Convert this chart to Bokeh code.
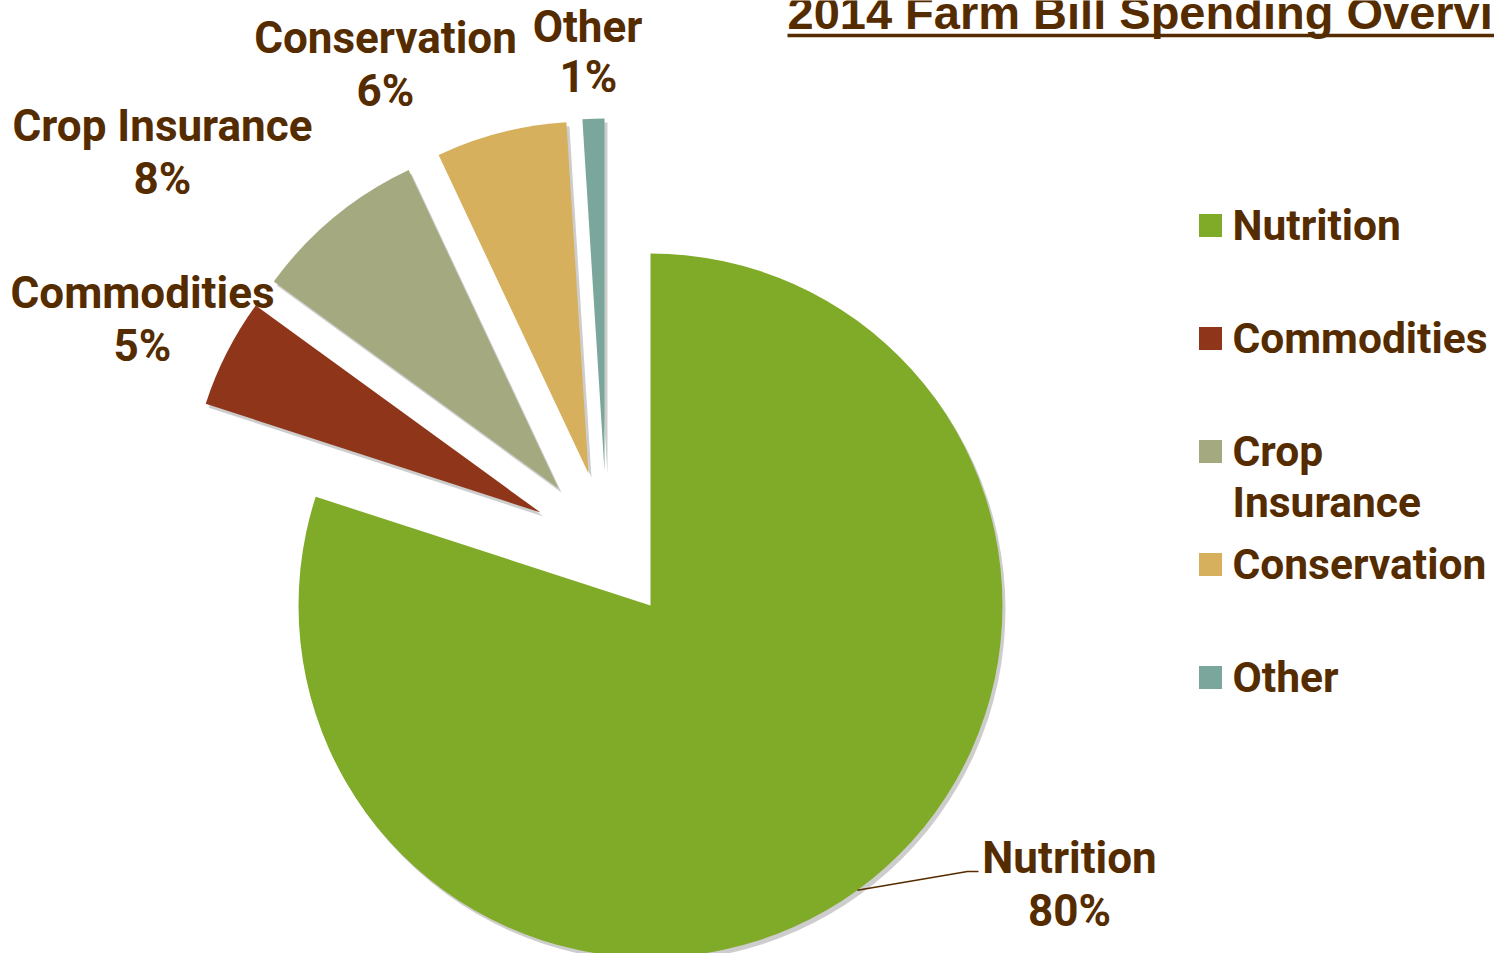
import numpy as np
from bokeh.plotting import figure
from bokeh.models import Range1d, ColumnDataSource
from bokeh.embed import file_html
from bokeh.resources import INLINE
from bokeh.core.properties import value

# ---------------- data ----------------
categories = ["Nutrition", "Commodities", "Crop Insurance", "Conservation", "Other"]
shares = [80, 5, 8, 6, 1]
pct_labels = ["80%", "5%", "8%", "6%", "1%"]
legend_lines = [["Nutrition"], ["Commodities"], ["Crop", "Insurance"], ["Conservation"], ["Other"]]
title_text = "2014 Farm Bill Spending Overview"

# ---------------- style / layout ----------------
colors = ["#80AB29", "#8F361A", "#A4A97F", "#D7B05E", "#7BA69C"]
TEXT = "#552C00"
FONT = "Roboto"
FSIZE = "44px"
LEG_FSIZE = "42.5px"
W, H = 1494, 953
IMG_H = 961


def Y(img_y):
    return IMG_H - img_y


cx, cy = 650.0, Y(605)
R = 352.0
# explosion offsets (image px: dx, dy-down)
explode = [(0, 0), (-110, -93), (-92, -117), (-62, -132), (-46, -135)]
# label anchor centres (image px): name line and percent line
name_pos = [(1069, 857), (142, 292), (162, 125), (385, 37), (587, 26)]
pct_pos = [(1069, 910), (142, 345), (162, 178), (385, 90), (588, 76)]

p = figure(width=W, height=H, output_backend="svg", toolbar_location=None,
           x_range=Range1d(0, W), y_range=Range1d(IMG_H - H, IMG_H),
           min_border=0)
p.axis.visible = False
p.grid.visible = False
p.outline_line_color = None
p.background_fill_color = "white"
p.border_fill_color = "white"

# wedge angles: start at 12 o'clock, clockwise
vals = np.array(shares, dtype=float)
frac = vals / vals.sum()
cum = np.concatenate([[0], np.cumsum(frac)])
start = np.pi / 2 - cum[:-1] * 2 * np.pi
end = np.pi / 2 - cum[1:] * 2 * np.pi

xs = [cx + dx for dx, dy in explode]
ys = [cy - dy for dx, dy in explode]

src = ColumnDataSource(dict(x=xs, y=ys, start=start, end=end, color=colors, cat=categories,
                            sx=[x + 3 for x in xs], sy=[y - 4 for y in ys]))

# shadow
p.wedge(x="sx", y="sy", radius=R, start_angle="start", end_angle="end", direction="clock",
        fill_color="#6f6f6f", fill_alpha=0.35, line_color=None, source=src)
p.wedge(x="x", y="y", radius=R, start_angle="start", end_angle="end", direction="clock",
        fill_color="color", line_color=None, source=src)

# slice labels
lab = ColumnDataSource(dict(x1=[a for a, b in name_pos], y1=[Y(b) for a, b in name_pos],
                            x2=[a for a, b in pct_pos], y2=[Y(b) for a, b in pct_pos],
                            name=categories, pct=pct_labels))
for xcol, ycol, tcol in (("x1", "y1", "name"), ("x2", "y2", "pct")):
    p.text(x=xcol, y=ycol, text=tcol, source=lab, text_align="center", text_baseline="middle",
           text_font=value(FONT), text_font_style="bold", text_font_size=FSIZE, text_color=TEXT)

# leader line for Nutrition
ang = np.deg2rad(-54)
px0, py0 = cx + R * np.cos(ang), cy + R * np.sin(ang)
p.line(x=[px0, 967, 978], y=[py0, Y(871), Y(871)], line_color=TEXT, line_width=1.6)

# legend
LEG_X, LEG_Y0, LEG_STEP, SQ = 1210, 225, 113, 23
for i, (lines, c) in enumerate(zip(legend_lines, colors)):
    yy = LEG_Y0 + i * LEG_STEP
    p.rect(x=[LEG_X], y=[Y(yy)], width=SQ, height=SQ, fill_color=c, line_color=None)
    for j, t in enumerate(lines):
        p.text(x=[1232], y=[Y(yy + j * 51)], text=[t], text_align="left", text_baseline="middle",
               text_font=value(FONT), text_font_style="bold", text_font_size=LEG_FSIZE,
               text_color=TEXT)

# title (underlined)
p.text(x=[787], y=[Y(12)], text=[title_text], text_align="left", text_baseline="middle",
       text_font=value("Liberation Sans"), text_font_style="bold", text_font_size="47px",
       text_color=TEXT)
p.line(x=[787, W], y=[Y(35), Y(35)], line_color=TEXT, line_width=3.5)

open("out.html", "w").write(file_html(p, INLINE))
